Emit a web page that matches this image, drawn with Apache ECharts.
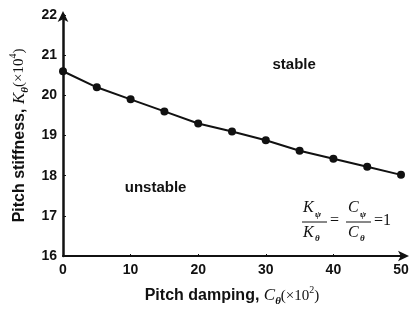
<!DOCTYPE html>
<html><head><meta charset="utf-8">
<script src="https://cdn.jsdelivr.net/npm/echarts@6/dist/echarts.min.js"></script>
<style>html,body{margin:0;padding:0;background:#fff}#c{width:415px;height:310px}</style>
</head><body><div id="c"></div>
<script>
const xValues = [0, 5, 10, 15, 20, 25, 30, 35, 40, 45, 50];
const kTheta = [20.6, 20.2, 19.9, 19.6, 19.3, 19.1, 18.88, 18.62, 18.42, 18.22, 18.02];
const xTicks = [0, 10, 20, 30, 40, 50];
const yTicks = [16, 17, 18, 19, 20, 21, 22];
const labels = [{text: 'stable', x: 34.2, y: 20.76}, {text: 'unstable', x: 13.7, y: 17.69}];

const chart = echarts.init(document.getElementById('c'), null, {renderer: 'canvas'});
const sans = 'Liberation Sans, Arial, sans-serif';
const serif = 'Liberation Serif, Times New Roman, serif';
const rich = {
  b: {fontFamily: sans, fontWeight: 'bold', fontSize: 16, color: '#111'},
  i: {fontFamily: serif, fontStyle: 'italic', fontSize: 17, color: '#111'},
  s: {fontFamily: serif, fontStyle: 'italic', fontWeight: 'bold', fontSize: 11, color: '#111', verticalAlign: 'bottom', lineHeight: 22},
  r: {fontFamily: serif, fontSize: 15, color: '#111'},
  p: {fontFamily: serif, fontSize: 10, color: '#111', verticalAlign: 'top', lineHeight: 22}
};
chart.setOption({
  animation: false,
  grid: {left: 63, right: 14, top: 15, bottom: 54, outerBoundsMode: 'none', containLabel: false},
  xAxis: {
    type: 'value', min: 0, max: 50, interval: 10,
    axisLine: {lineStyle: {color: '#111', width: 2}, symbol: ['none', 'arrow'], symbolSize: [8, 11], symbolOffset: [0, 8]},
    axisTick: {show: true, inside: true, length: 2, lineStyle: {color: '#111'}},
    splitLine: {show: false},
    axisLabel: {fontFamily: sans, fontWeight: 'bold', fontSize: 14, color: '#111', margin: 7},
    name: '{b|Pitch damping, }{i|C}{s|θ}{r|(×10}{p|2}{r|)}',
    nameLocation: 'middle', nameGap: 29,
    nameTextStyle: {rich: rich}
  },
  yAxis: {
    type: 'value', min: 16, max: 22, interval: 1,
    axisLine: {lineStyle: {color: '#111', width: 2.5}, symbol: ['none', 'arrow'], symbolSize: [8, 11], symbolOffset: [0, 4]},
    axisTick: {show: true, inside: true, length: 3, lineStyle: {color: '#111'}},
    splitLine: {show: false},
    axisLabel: {fontFamily: sans, fontWeight: 'bold', fontSize: 14, color: '#111', margin: 6},
    name: '{b|Pitch stiffness, }{i|K}{s|θ}{r|(×10}{p|4}{r|)}',
    nameLocation: 'middle', nameGap: 31,
    nameTextStyle: {rich: rich}
  },
  series: [{
    type: 'line',
    data: xValues.map((x, i) => [x, kTheta[i]]),
    symbol: 'circle', symbolSize: 8,
    lineStyle: {color: '#111', width: 2},
    itemStyle: {color: '#111'},
    clip: false,
    markPoint: {
      symbol: 'rect', symbolSize: 1, itemStyle: {color: 'transparent'},
      label: {show: true, position: 'inside', fontFamily: sans, fontWeight: 'bold', fontSize: 15, color: '#111', formatter: p => p.name},
      data: labels.map(l => ({name: l.text, coord: [l.x, l.y]}))
    }
  }],
  graphic: [
    {type: 'text', left: 303, top: 200, style: {text: 'K', font: 'italic 16px ' + serif, fill: '#111'}},
    {type: 'text', left: 315, top: 210, style: {text: 'ψ', font: 'italic bold 9px ' + serif, fill: '#111'}},
    {type: 'line', shape: {x1: 302, y1: 222, x2: 327, y2: 222}, style: {stroke: '#111', lineWidth: 1}},
    {type: 'text', left: 303, top: 225, style: {text: 'K', font: 'italic 16px ' + serif, fill: '#111'}},
    {type: 'text', left: 315, top: 234, style: {text: 'θ', font: 'italic bold 9px ' + serif, fill: '#111'}},
    {type: 'text', left: 330, top: 213, style: {text: '=', font: '16px ' + serif, fill: '#111'}},
    {type: 'text', left: 348, top: 200, style: {text: 'C', font: 'italic 16px ' + serif, fill: '#111'}},
    {type: 'text', left: 360, top: 210, style: {text: 'ψ', font: 'italic bold 9px ' + serif, fill: '#111'}},
    {type: 'line', shape: {x1: 346, y1: 222, x2: 371, y2: 222}, style: {stroke: '#111', lineWidth: 1}},
    {type: 'text', left: 348, top: 225, style: {text: 'C', font: 'italic 16px ' + serif, fill: '#111'}},
    {type: 'text', left: 360, top: 234, style: {text: 'θ', font: 'italic bold 9px ' + serif, fill: '#111'}},
    {type: 'text', left: 374, top: 213, style: {text: '=1', font: '16px ' + serif, fill: '#111'}}
  ]
});
</script></body></html>
